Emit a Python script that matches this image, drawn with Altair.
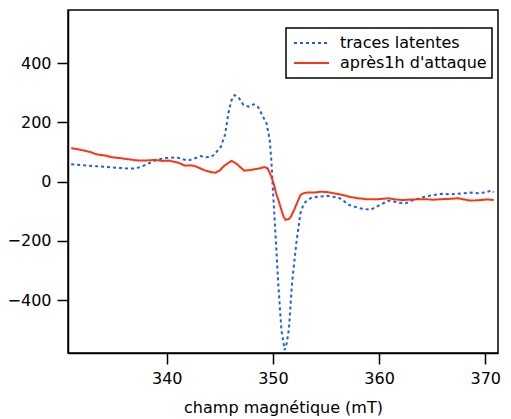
import altair as alt
import pandas as pd

series = ["traces latentes", "après1h d'attaque"]
colors = ["#1f5fdc", "#ff3311"]

blue_x = [331.0, 332.2, 333.4, 334.8, 336.1, 336.9, 337.6, 338.2, 339.2, 340.0,
          340.9, 341.5, 342.0, 342.6, 343.2, 343.7, 344.2, 344.5, 345.1, 345.5,
          345.8, 346.1, 346.4, 346.8, 347.2, 347.7, 348.2, 348.6, 348.9, 349.2,
          349.4, 349.6, 349.7, 349.85, 350.0, 350.2, 350.5, 350.8, 351.1, 351.3,
          351.5, 351.8, 352.2, 352.6, 352.9, 353.2, 353.6, 354.2, 355.1, 355.7,
          356.3, 357.2, 358.2, 359.2, 360.0, 360.9, 361.5, 361.9, 362.5, 363.1,
          364.3, 365.0, 365.9, 366.7, 367.4, 368.6, 369.3, 369.9, 370.6, 370.8]
blue_y = [59, 55, 52, 48, 45, 44, 50, 60, 75, 80,
          82, 76, 71, 78, 86, 82, 84, 92, 118, 160,
          230, 275, 292, 282, 260, 253, 261, 252, 231, 210,
          197, 160, 141, 73, -28, -150, -343, -500, -568, -545,
          -500, -343, -208, -105, -75, -64, -55, -51, -48, -51,
          -56, -79, -90, -95, -80, -64, -68, -71, -73, -64,
          -51, -46, -41, -43, -41, -37, -39, -37, -30, -36]

red_x = [331.0, 331.5, 332.2, 332.8, 333.4, 334.2, 334.9, 335.7, 336.5, 337.1,
         337.7, 338.3, 338.9, 339.6, 340.2, 340.7, 341.1, 341.7, 342.2, 342.6,
         343.1, 343.5, 344.2, 344.6, 345.0, 345.4, 345.8, 346.1, 346.5, 346.8,
         347.3, 347.8, 348.3, 348.8, 349.2, 349.5, 349.85, 350.1, 350.3, 350.5,
         350.8, 351.0, 351.2, 351.5, 351.7, 352.0, 352.2, 352.6, 352.9, 353.2,
         353.85, 354.5, 355.1, 356.0, 356.6, 357.2, 358.0, 358.8, 360.0, 360.9,
         361.5, 362.2, 363.2, 364.3, 365.1, 365.9, 366.7, 367.4, 368.0, 368.6,
         369.6, 370.2, 370.8]
red_y = [113, 110, 105, 100, 92, 88, 82, 79, 75, 72,
         71, 72, 73, 70, 71, 67, 64, 54, 55, 53,
         46, 39, 32, 30, 38, 53, 63, 70, 62, 53,
         37, 39, 42, 45, 49, 45, 17, -10, -39, -60,
         -95, -118, -129, -126, -118, -95, -78, -45, -39, -37,
         -37, -34, -35, -41, -45, -51, -56, -59, -59, -56,
         -60, -62, -60, -59, -61, -59, -58, -56, -60, -64,
         -62, -60, -62]

x_ticks = [340, 350, 360, 370]
y_ticks = [-400, -200, 0, 200, 400]

df = pd.concat([
    pd.DataFrame({"x": blue_x, "y": blue_y, "s": series[0], "o": list(range(len(blue_x)))}),
    pd.DataFrame({"x": red_x, "y": red_y, "s": series[1], "o": list(range(len(red_x)))}),
], ignore_index=True)

legend = alt.Legend(title=None, orient="none", legendX=218, legendY=18,
                    symbolType="stroke", symbolSize=1225, symbolStrokeWidth=2,
                    symbolOffset=2, clipHeight=20,
                    labelFontSize=16, labelFont="DejaVu Sans", labelColor="black",
                    labelOffset=10, padding=5, rowPadding=0,
                    strokeColor="black", fillColor="white")

chart = alt.Chart(df).mark_line(strokeWidth=2, clip=True).encode(
    x=alt.X("x:Q",
            scale=alt.Scale(domain=[330.7, 371.2], nice=False, zero=False),
            axis=alt.Axis(values=x_ticks, title="champ magnétique (mT)", grid=False,
                          tickSize=11, labelPadding=6, titlePadding=13, format="d")),
    y=alt.Y("y:Q",
            scale=alt.Scale(domain=[-578, 579], nice=False),
            axis=alt.Axis(values=y_ticks, title=None, grid=False,
                          tickSize=11, labelPadding=6, format="d")),
    color=alt.Color("s:N", scale=alt.Scale(domain=series, range=colors), legend=legend),
    strokeDash=alt.StrokeDash("s:N", scale=alt.Scale(domain=series, range=[[3, 3], [1, 0]]),
                              legend=legend),
    order="o:Q",
).properties(
    width=430, height=343,
    autosize=alt.AutoSizeParams(type="none"),
    padding={"left": 60, "top": 2, "right": 5, "bottom": 66},
).configure_view(
    stroke="black", strokeWidth=1.5
).configure_axis(
    labelFont="DejaVu Sans", labelFontSize=16, labelColor="black",
    titleFont="DejaVu Sans", titleFontSize=16, titleColor="black", titleFontWeight="normal",
    domainColor="black", domainWidth=1.5, tickColor="black", tickWidth=1.5,
).configure_legend(
    strokeWidth=1.5
)

chart.save("out.html", embed_options={"renderer": "svg", "actions": False})
